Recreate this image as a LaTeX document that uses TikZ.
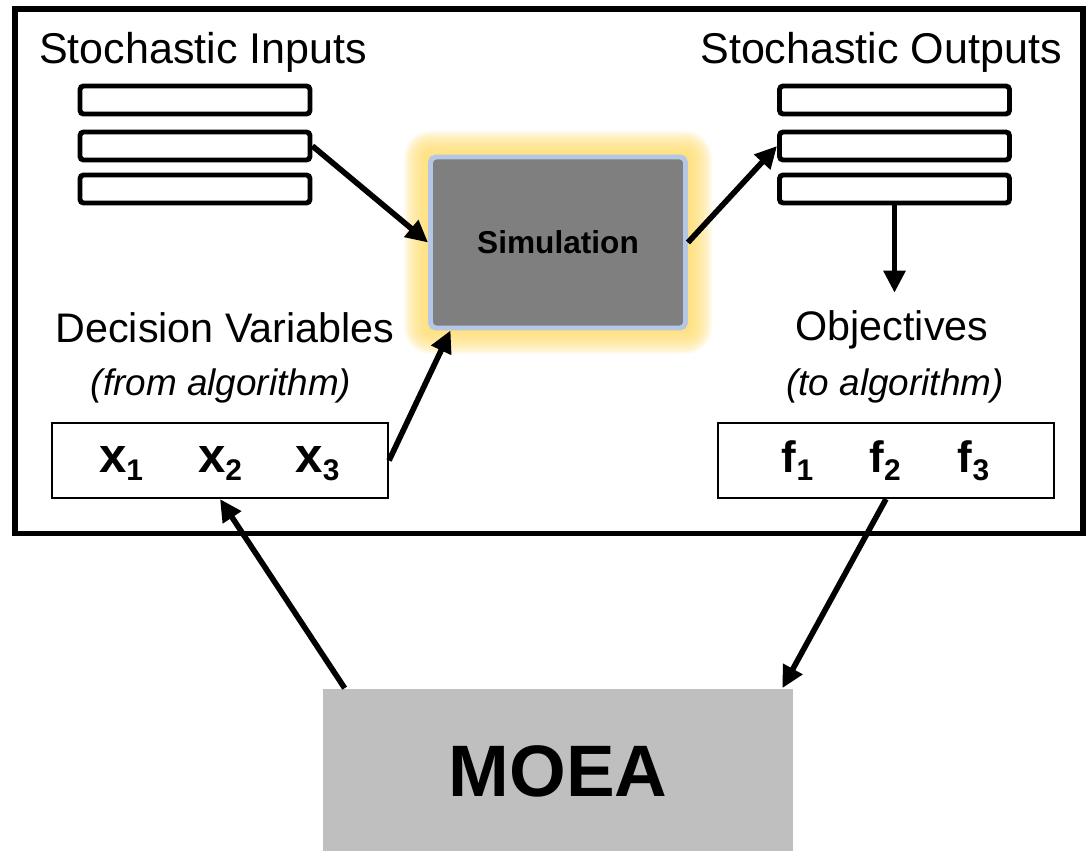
\documentclass[tikz,border=0pt]{standalone}
\usepackage{fontspec}
\setmainfont{Liberation Sans}
\usetikzlibrary{arrows.meta}

\definecolor{simgray}{RGB}{127,127,127}
\definecolor{simedge}{RGB}{180,199,231}
\definecolor{glowc}{RGB}{255,220,110}
\definecolor{moeagray}{RGB}{191,191,191}

% bold letter with a lowered bold index
\newcommand{\sbvar}[3]{{\fontsize{#1}{#1}\selectfont\bfseries #2}\raisebox{-0.16cm}{\fontsize{17}{20}\selectfont\bfseries #3}}

\begin{document}
\begin{tikzpicture}[x=0.02cm, y=-0.02cm,
    bar/.style={draw, line width=2.8pt, rounded corners=2pt, minimum width=4.6cm, minimum height=0.56cm, inner sep=0pt},
    varbox/.style={draw, line width=1.2pt, minimum width=6.72cm, minimum height=1.5cm, inner sep=0pt},
    head/.style={font=\fontsize{23.5}{28}\selectfont, anchor=base, inner sep=0pt},
    note/.style={font=\fontsize{21}{25}\selectfont\itshape, anchor=base, inner sep=0pt},
    var/.style={anchor=base, inner sep=0pt},
    flow/.style={-{Triangle[length=0.44cm,width=0.42cm]}, line width=3.2pt}]

    \useasboundingbox (0,0) rectangle (1088,851);

    % outer frame
    \draw[line width=3.2pt] (15,9) rectangle (1083,533.5);

    % glow behind the simulation box
    \foreach \g [evaluate=\g as \r using 0.6*\g] in {2,4,...,26}
        \fill[glowc, opacity=0.14, rounded corners=\r pt] (430-\g,157-\g) rectangle (686+\g,328+\g);

    \node[draw=simedge, fill=simgray, line width=2.8pt, rounded corners=3pt, minimum width=5.1cm, minimum height=3.42cm, inner sep=0pt,
          font=\fontsize{18}{22}\selectfont\bfseries] (sim) at (558,242.5) {Simulation};

    % stochastic inputs and outputs
    \foreach \i/\y in {1/100,2/146,3/189} {
        \node[bar] (in\i) at (195,\y) {};
        \node[bar] (out\i) at (894.5,\y) {};
    }

    \node[head, font=\fontsize{24.5}{29}\selectfont] (inlbl) at (203,64) {Stochastic Inputs};
    \node[head, font=\fontsize{24.5}{29}\selectfont] (outlbl) at (881,64) {Stochastic Outputs};
    \node[head] (dvlbl) at (225,342) {Decision Variables};
    \node[note] (dvnote) at (221,395) {(from algorithm)};
    \node[head] (objlbl) at (892,340) {Objectives};
    \node[note] (objnote) at (895,395) {(to algorithm)};

    % decision variables and objectives
    \node[varbox] (dv) at (220,460.5) {};
    \node[varbox] (obj) at (886,460.5) {};
    \foreach \i/\x in {1/121,2/220,3/317.5}
        \node[var] (x\i) at (\x,472) {\sbvar{28}{x}{\i}};
    \foreach \i/\x in {1/797.5,2/885,3/973.5}
        \node[var] (f\i) at (\x,472) {\sbvar{25}{f}{\i}};

    \node[fill=moeagray, minimum width=9.4cm, minimum height=3.3cm, inner sep=0pt,
          font=\fontsize{41.5}{48}\selectfont\bfseries] (moea) at (558,771) {MOEA};

    % arrows
    \draw[flow] (in2.east) -- (sim.west);
    \draw[flow] (sim.east) -- (out2.west);
    \draw[flow, shorten >=0.34cm] (out3.south) -- (out3.south |- objlbl.north);
    \draw[flow] (dv.east) -- ([xshift=0.45cm]sim.south west);
    \draw[flow] ([xshift=0.44cm]moea.north west) -- (dv.south);
    \draw[flow] (obj.south) -- ([xshift=-0.22cm]moea.north east);
\end{tikzpicture}
\end{document}
